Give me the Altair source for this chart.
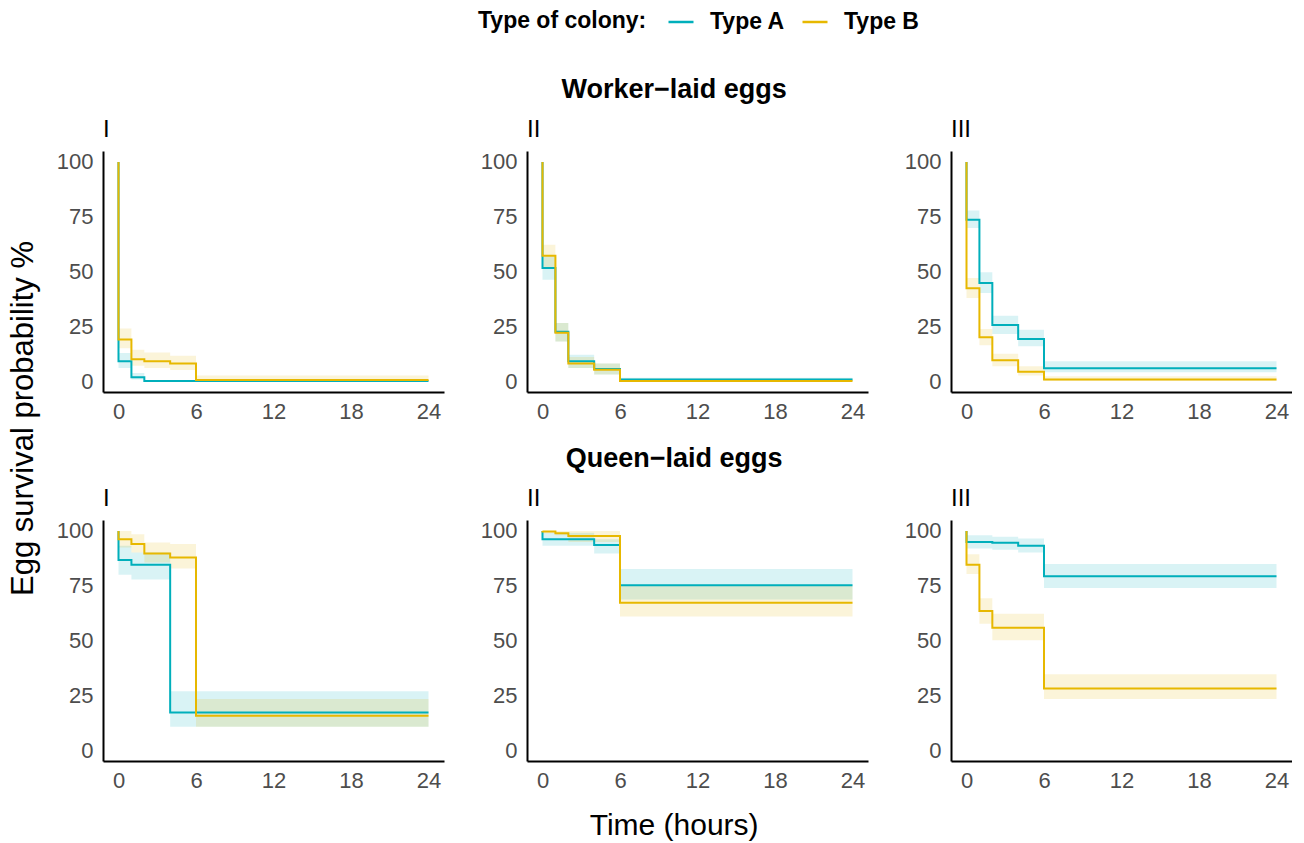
import altair as alt
import pandas as pd

# ---------------- data ----------------
TIMES = [0, 1, 2, 4, 6, 24]          # hours (start of each step)
ROW_NAMES = ["Worker−laid eggs", "Queen−laid eggs"]
COL_NAMES = ["I", "II", "III"]
TYPES = ["Type A", "Type B"]
COLORS = ["#00AFBB", "#E7B800"]
X_TICKS = [0, 6, 12, 18, 24]
Y_TICKS = [0, 25, 50, 75, 100]

# Worker-laid eggs
W_I_A_SURV = [9.0, 1.7, 0.0, 0.0, 0.0, 0.0]
W_I_A_LO = [6.0, 0.7, 0.0, 0.0, 0.0, 0.0]
W_I_A_HI = [12.8, 3.7, 0.5, 0.5, 0.5, 0.5]
W_I_B_SURV = [19.0, 10.0, 9.0, 8.0, 0.5, 0.5]
W_I_B_LO = [15.0, 7.0, 6.0, 5.0, 0.0, 0.0]
W_I_B_HI = [24.0, 14.3, 13.0, 11.6, 2.5, 2.5]

W_II_A_SURV = [51.6, 22.5, 9.0, 5.5, 0.7, 0.7]
W_II_A_LO = [46.2, 18.0, 6.0, 3.0, 0.0, 0.0]
W_II_A_HI = [56.9, 26.5, 12.0, 8.0, 1.5, 1.5]
W_II_B_SURV = [57.2, 22.0, 8.0, 5.2, 0.0, 0.0]
W_II_B_LO = [51.6, 18.0, 6.0, 3.0, 0.0, 0.0]
W_II_B_HI = [62.2, 26.5, 11.0, 8.0, 1.0, 1.0]

W_III_A_SURV = [73.6, 44.7, 25.6, 19.2, 5.8, 5.8]
W_III_A_LO = [69.8, 40.2, 21.5, 15.9, 4.0, 4.0]
W_III_A_HI = [77.8, 49.7, 29.8, 23.4, 9.0, 9.0]
W_III_B_SURV = [42.4, 20.0, 9.5, 4.2, 0.7, 0.7]
W_III_B_LO = [37.9, 16.3, 6.8, 2.5, 0.0, 0.0]
W_III_B_HI = [47.0, 23.8, 12.5, 6.8, 2.2, 2.2]

# Queen-laid eggs
Q_I_A_SURV = [86.8, 84.6, 84.6, 17.1, 17.1, 17.1]
Q_I_A_LO = [80.0, 77.8, 77.8, 10.6, 10.6, 10.6]
Q_I_A_HI = [93.2, 90.2, 90.2, 26.8, 26.8, 26.8]
Q_I_B_SURV = [96.2, 94.1, 89.7, 87.9, 15.7, 15.7]
Q_I_B_LO = [92.5, 90.2, 85.6, 82.9, 10.6, 10.6]
Q_I_B_HI = [100.0, 98.5, 94.7, 94.0, 23.3, 23.3]

Q_II_A_SURV = [96.2, 96.2, 96.2, 93.6, 75.2, 75.2]
Q_II_A_LO = [93.2, 93.2, 93.2, 89.7, 68.7, 68.7]
Q_II_A_HI = [99.2, 99.2, 99.2, 96.2, 82.6, 82.6]
Q_II_B_SURV = [99.8, 99.0, 97.7, 97.7, 67.2, 67.2]
Q_II_B_LO = [99.0, 98.0, 95.0, 95.0, 61.0, 61.0]
Q_II_B_HI = [100.0, 100.0, 100.0, 100.0, 75.0, 75.0]

Q_III_A_SURV = [95.0, 95.0, 94.6, 93.3, 79.3, 79.3]
Q_III_A_LO = [92.0, 92.0, 91.4, 90.2, 74.0, 74.0]
Q_III_A_HI = [98.0, 98.0, 97.4, 96.5, 84.9, 84.9]
Q_III_B_SURV = [84.6, 63.5, 55.8, 55.8, 28.1, 28.1]
Q_III_B_LO = [80.3, 57.6, 50.1, 50.1, 23.3, 23.3]
Q_III_B_HI = [89.4, 69.3, 62.2, 62.2, 34.6, 34.6]

PANELS = {
    ("Worker−laid eggs", "I"): {"Type A": (W_I_A_SURV, W_I_A_LO, W_I_A_HI),
                                "Type B": (W_I_B_SURV, W_I_B_LO, W_I_B_HI)},
    ("Worker−laid eggs", "II"): {"Type A": (W_II_A_SURV, W_II_A_LO, W_II_A_HI),
                                 "Type B": (W_II_B_SURV, W_II_B_LO, W_II_B_HI)},
    ("Worker−laid eggs", "III"): {"Type A": (W_III_A_SURV, W_III_A_LO, W_III_A_HI),
                                  "Type B": (W_III_B_SURV, W_III_B_LO, W_III_B_HI)},
    ("Queen−laid eggs", "I"): {"Type A": (Q_I_A_SURV, Q_I_A_LO, Q_I_A_HI),
                               "Type B": (Q_I_B_SURV, Q_I_B_LO, Q_I_B_HI)},
    ("Queen−laid eggs", "II"): {"Type A": (Q_II_A_SURV, Q_II_A_LO, Q_II_A_HI),
                                "Type B": (Q_II_B_SURV, Q_II_B_LO, Q_II_B_HI)},
    ("Queen−laid eggs", "III"): {"Type A": (Q_III_A_SURV, Q_III_A_LO, Q_III_A_HI),
                                 "Type B": (Q_III_B_SURV, Q_III_B_LO, Q_III_B_HI)},
}

FONT = "Liberation Sans"
PANEL_W, PANEL_H = 341, 241

x_scale = alt.Scale(domain=[-1.2, 25.2], nice=False, zero=False)
y_scale = alt.Scale(domain=[-5, 105], nice=False, zero=False)
color_scale = alt.Scale(domain=TYPES, range=COLORS)
legend = alt.Legend(title="Type of colony:")


def panel(row, col):
    lines, bands = [], []
    for t in TYPES:
        surv, lo, hi = PANELS[(row, col)][t]
        lines.append({"type": t, "time": 0, "surv": 100.0, "idx": 0})
        for i, tm in enumerate(TIMES):
            lines.append({"type": t, "time": tm, "surv": surv[i], "idx": i + 1})
            bands.append({"type": t, "time": tm, "lo": lo[i], "hi": hi[i]})
    ldf = pd.DataFrame(lines)
    bdf = pd.DataFrame(bands)

    x_enc = alt.X("time:Q", scale=x_scale,
                  axis=alt.Axis(values=X_TICKS, title=None))
    band = alt.Chart(bdf).mark_area(interpolate="step-after", opacity=0.15).encode(
        x=x_enc,
        y=alt.Y("lo:Q", scale=y_scale, stack=None,
                axis=alt.Axis(values=Y_TICKS, title=None)),
        y2="hi:Q",
        color=alt.Color("type:N", scale=color_scale, legend=legend),
        detail="type:N",
    )
    line = alt.Chart(ldf).mark_line(interpolate="step-after", strokeWidth=2).encode(
        x=x_enc,
        y=alt.Y("surv:Q", scale=y_scale,
                axis=alt.Axis(values=Y_TICKS, title=None)),
        color=alt.Color("type:N", scale=color_scale, legend=legend),
        order="idx:Q",
    )
    return alt.layer(band, line).properties(
        width=PANEL_W, height=PANEL_H,
        title=alt.TitleParams(col, anchor="start", frame="group", fontSize=24,
                              fontWeight="normal", color="black", offset=9),
    )


rows = []
for r in ROW_NAMES:
    rows.append(alt.hconcat(
        *[panel(r, c) for c in COL_NAMES], spacing=83, bounds="flush",
        title=alt.TitleParams(r, anchor="middle", fontSize=27, fontWeight="bold",
                              color="black", offset=14),
    ))

inner = alt.vconcat(
    *rows, spacing=22,
    title=alt.TitleParams("Time (hours)", orient="bottom", anchor="middle",
                          fontSize=30, fontWeight="normal", color="black", offset=20),
)

chart = alt.hconcat(
    inner,
    title=alt.TitleParams("Egg survival probability %", orient="left", anchor="middle",
                          fontSize=31, fontWeight="normal", color="black", offset=16,
                          dx=6),
).properties(padding=0).configure(font=FONT).configure_view(
    strokeWidth=0
).configure_axis(
    domainColor="black", domainWidth=2, ticks=False, grid=False,
    labelColor="#4D4D4D", labelFontSize=22, labelFont=FONT, labelPadding=9,
).configure_axisY(labelPadding=10).configure_legend(
    orient="none", legendX=375, legendY=-143, direction="horizontal",
    titleOrient="left", titleFontSize=23, titleFontWeight="bold", titleColor="black",
    labelFontSize=23, labelFontWeight="bold", labelColor="black",
    symbolType="stroke", symbolSize=625, symbolStrokeWidth=2.5, symbolOpacity=1,
    labelOffset=15, columnPadding=12, titlePadding=20, titleBaseline="middle",
)

chart.save("out.html", embed_options={"renderer": "svg", "actions": False})
